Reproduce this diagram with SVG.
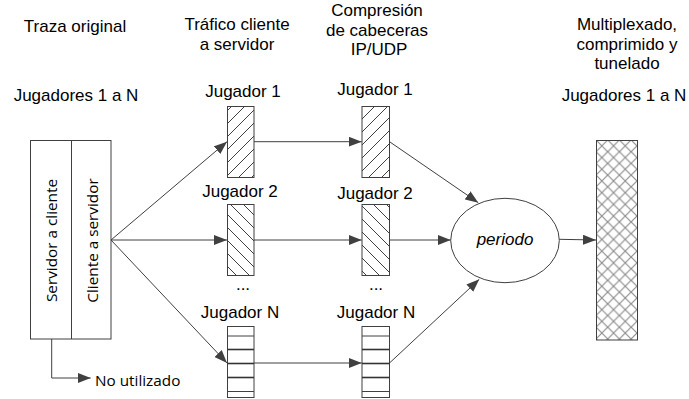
<svg xmlns="http://www.w3.org/2000/svg" width="689" height="399" viewBox="0 0 689 399">
  <style>
    .lbl { font-family: "Liberation Sans", Arial, sans-serif; font-size: 17px; fill: #000; text-anchor: middle; }
    .box-txt { font-family: "Open Sans", "Noto Sans", sans-serif; font-size: 15.3px; fill: #000; }
    .box { fill: #fff; stroke: #404040; stroke-width: 1; }
    .conn { fill: none; stroke: #404040; stroke-width: 1; }
    .cell { stroke: #404040; stroke-width: 1; }
    .cell-strong { stroke: #333; stroke-width: 1.6; }
  </style>
  <defs>
    <marker id="arrow" viewBox="0 0 13 10" refX="13" refY="5" markerWidth="13" markerHeight="10" markerUnits="userSpaceOnUse" orient="auto">
      <path d="M0,0 L13,5 L0,10 Z" fill="#404040"/>
    </marker>
    <!-- forward diagonal hatch -->
    <pattern id="hatch-fwd" patternUnits="userSpaceOnUse" width="13" height="13">
      <path d="M-3,3 L3,-3 M0,13 L13,0 M10,16 L16,10" stroke="#404040" stroke-width="1"/>
    </pattern>
    <!-- backward diagonal hatch -->
    <pattern id="hatch-back" patternUnits="userSpaceOnUse" width="13" height="13">
      <path d="M-3,10 L3,16 M0,0 L13,13 M10,-3 L16,3" stroke="#404040" stroke-width="1"/>
    </pattern>
    <!-- diamond cross-hatch -->
    <pattern id="cross" patternUnits="userSpaceOnUse" width="11.7" height="11.7" x="596" y="140">
      <path d="M0,0 L11.7,11.7 M0,11.7 L11.7,0" stroke="#8c8c8c" stroke-width="1.2"/>
    </pattern>
  </defs>

  <!-- column headings -->
  <g id="headings">
    <text class="lbl" x="75" y="32">Traza original</text>
    <text class="lbl" x="237" y="30">Tráfico cliente</text>
    <text class="lbl" x="237" y="50">a servidor</text>
    <text class="lbl" x="377" y="16">Compresión</text>
    <text class="lbl" x="377" y="36">de cabeceras</text>
    <text class="lbl" x="379" y="55">IP/UDP</text>
    <text class="lbl" x="627" y="30">Multiplexado,</text>
    <text class="lbl" x="627" y="50">comprimido y</text>
    <text class="lbl" x="627" y="69">tunelado</text>
  </g>

  <!-- original trace -->
  <g id="trace">
    <text class="lbl" x="76" y="101">Jugadores 1 a N</text>
    <rect class="box" x="30.5" y="140.5" width="80.5" height="198.5"/>
    <line class="conn" x1="71.5" y1="140.5" x2="71.5" y2="339"/>
    <text class="box-txt" transform="translate(56.5,240.5) rotate(-90)" text-anchor="middle">Servidor a cliente</text>
    <text class="box-txt" transform="translate(97.5,240.5) rotate(-90)" text-anchor="middle">Cliente a servidor</text>
  </g>

  <g id="unused">
    <text class="box-txt" x="95" y="386">No utilizado</text>
  </g>

  <!-- client to server traffic -->
  <g id="c1-p1">
    <text class="lbl" x="243" y="97">Jugador 1</text>
    <rect x="227.5" y="106.5" width="26.5" height="71" fill="url(#hatch-fwd)" stroke="#404040"/>
  </g>
  <g id="c1-p2">
    <text class="lbl" x="240" y="197">Jugador 2</text>
    <rect x="227.5" y="204.5" width="26.5" height="71" fill="url(#hatch-back)" stroke="#404040"/>
  </g>
  <g id="c1-dots">
    <text class="lbl" x="243" y="290">...</text>
  </g>
  <g id="c1-pn">
    <text class="lbl" x="240" y="318">Jugador N</text>
    <rect class="box" x="227.5" y="326.5" width="26.5" height="71"/>
    <line class="cell" x1="227.5" y1="336" x2="254" y2="336"/>
    <line class="cell-strong" x1="227.5" y1="349.5" x2="254" y2="349.5"/>
    <line class="cell-strong" x1="227.5" y1="363.5" x2="254" y2="363.5"/>
    <line class="cell-strong" x1="227.5" y1="377.5" x2="254" y2="377.5"/>
    <line class="cell" x1="227.5" y1="391.5" x2="254" y2="391.5"/>
  </g>

  <!-- header compression -->
  <g id="c2-p1">
    <text class="lbl" x="375" y="95">Jugador 1</text>
    <rect x="362" y="106.5" width="27.5" height="71" fill="url(#hatch-fwd)" stroke="#404040"/>
  </g>
  <g id="c2-p2">
    <text class="lbl" x="375" y="199">Jugador 2</text>
    <rect x="362" y="204.5" width="27.5" height="71" fill="url(#hatch-back)" stroke="#404040"/>
  </g>
  <g id="c2-dots">
    <text class="lbl" x="376" y="290">...</text>
  </g>
  <g id="c2-pn">
    <text class="lbl" x="376" y="318">Jugador N</text>
    <rect class="box" x="362" y="326.5" width="27.5" height="71"/>
    <line class="cell" x1="362" y1="336" x2="389.5" y2="336"/>
    <line class="cell-strong" x1="362" y1="349.5" x2="389.5" y2="349.5"/>
    <line class="cell-strong" x1="362" y1="363.5" x2="389.5" y2="363.5"/>
    <line class="cell-strong" x1="362" y1="377.5" x2="389.5" y2="377.5"/>
    <line class="cell" x1="362" y1="391.5" x2="389.5" y2="391.5"/>
  </g>

  <!-- period -->
  <g id="period">
    <ellipse cx="505" cy="240.5" rx="54.3" ry="42.2" fill="#fff" stroke="#404040"/>
    <text class="lbl" x="505" y="245" font-style="italic">periodo</text>
  </g>

  <!-- multiplexed, compressed and tunnelled -->
  <g id="mux">
    <text class="lbl" x="624" y="101">Jugadores 1 a N</text>
    <rect x="596.5" y="140.5" width="41" height="199.5" fill="url(#cross)" stroke="#404040"/>
  </g>

  <!-- connectors -->
  <g id="connectors" class="conn" marker-end="url(#arrow)">
    <path d="M111,240 L227,141.7"/>
    <path d="M111,240 L227,240"/>
    <path d="M111,240 L227,363"/>
    <path d="M254,141.7 L361.7,141.7"/>
    <path d="M254,240 L361.7,240"/>
    <path d="M254,363 L361.7,363"/>
    <path d="M389.5,141.7 L478.3,202.7"/>
    <path d="M389.5,240 L450.7,240"/>
    <path d="M389.5,363 L479.3,279.3"/>
    <path d="M559.3,239.3 L596,240"/>
    <path d="M51.7,339 L51.7,378 L90.7,378"/>
  </g>
</svg>
